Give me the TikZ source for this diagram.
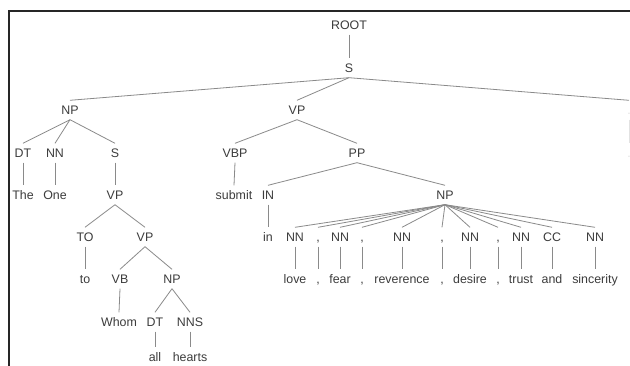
\documentclass[tikz,border=0pt]{standalone}
\usepackage{fontspec}
\setmainfont{Liberation Sans}
\definecolor{txt}{HTML}{3C3C3C}
\definecolor{edge}{HTML}{8A8A8A}
\definecolor{faint}{HTML}{E2E2E2}
\begin{document}
\begin{tikzpicture}[x=1pt,y=-1pt,
  lbl/.style={font=\fontsize{12.4}{14}\selectfont, text=txt, inner sep=0pt,
    text height=8.8pt, text depth=0pt, minimum height=19pt},
  faintlbl/.style={lbl, text=faint},
  br/.style={draw=edge, line width=0.8pt},
  faintbr/.style={draw=faint, line width=0.8pt},
  frame/.style={draw=black!85, line width=1.3pt}]
\useasboundingbox (0,0) rectangle (630,366);
\clip (0,0) rectangle (630,366);
\fill[white] (0,0) rectangle (630,366);
% frame
\coordinate (fTR) at (632,11);
\coordinate (fTL) at (9,11);
\coordinate (fBL) at (9,368);
\draw[frame] (fTR) -- (fTL) -- (fBL);
% nodes
\node[lbl] (root) at (349,25) {ROOT};
\node[lbl] (s) at (349,68) {S};
\node[lbl] (np1) at (70,110) {NP};
\node[lbl] (vp1) at (297,110) {VP};
\node[faintlbl] (p3) at (629,110) {.};
\node[lbl] (dt1) at (23,153) {DT};
\node[lbl] (nn1) at (55,153) {NN};
\node[lbl] (s2) at (115,153) {S};
\node[lbl] (vbp) at (235,153) {VBP};
\node[lbl] (pp) at (357,153) {PP};
\node[faintlbl] (p3l) at (629,153) {.};
\node[lbl] (wthe) at (23,195) {The};
\node[lbl] (wone) at (55,195) {One};
\node[lbl] (vp2) at (115,195) {VP};
\node[lbl] (wsubmit) at (234,195) {submit};
\node[lbl] (in) at (268,195) {IN};
\node[lbl] (np2) at (445,195) {NP};
\node[lbl] (to) at (85,237) {TO};
\node[lbl] (vp3) at (145,237) {VP};
\node[lbl] (win) at (268,237) {in};
\node[lbl] (nn2) at (295,237) {NN};
\node[lbl] (c1) at (318,237) {,};
\node[lbl] (nn3) at (340,237) {NN};
\node[lbl] (c2) at (362,237) {,};
\node[lbl] (nn4) at (402,237) {NN};
\node[lbl] (c3) at (442,237) {,};
\node[lbl] (nn5) at (470,237) {NN};
\node[lbl] (c4) at (498,237) {,};
\node[lbl] (nn6) at (521,237) {NN};
\node[lbl] (cc) at (552,237) {CC};
\node[lbl] (nn7) at (595,237) {NN};
\node[lbl] (wto) at (85,279) {to};
\node[lbl] (vb) at (120,279) {VB};
\node[lbl] (np3) at (172,279) {NP};
\node[lbl] (wlove) at (295,279) {love};
\node[lbl] (wc1) at (318,279) {,};
\node[lbl] (wfear) at (340,279) {fear};
\node[lbl] (wc2) at (362,279) {,};
\node[lbl] (wrev) at (402,279) {reverence};
\node[lbl] (wc3) at (442,279) {,};
\node[lbl] (wdesire) at (470,279) {desire};
\node[lbl] (wc4) at (498,279) {,};
\node[lbl] (wtrust) at (521,279) {trust};
\node[lbl] (wand) at (552,279) {and};
\node[lbl] (wsinc) at (595,279) {sincerity};
\node[lbl] (wwhom) at (119,322) {Whom};
\node[lbl] (dt2) at (155,322) {DT};
\node[lbl] (nns) at (190,322) {NNS};
\node[lbl] (wall) at (155,357) {all};
\node[lbl] (whearts) at (190,357) {hearts};
% edges
\draw[br] (root.south) -- (s.north);
\draw[br] (s.south) -- (np1.north);
\draw[br] (s.south) -- (vp1.north);
\draw[br] (s.south) -- (p3.north);
\draw[faintbr] (p3.south) -- (p3l.north);
\draw[br] (np1.south) -- (dt1.north);
\draw[br] (np1.south) -- (nn1.north);
\draw[br] (np1.south) -- (s2.north);
\draw[br] (dt1.south) -- (wthe.north);
\draw[br] (nn1.south) -- (wone.north);
\draw[br] (s2.south) -- (vp2.north);
\draw[br] (vp2.south) -- (to.north);
\draw[br] (vp2.south) -- (vp3.north);
\draw[br] (to.south) -- (wto.north);
\draw[br] (vp3.south) -- (vb.north);
\draw[br] (vp3.south) -- (np3.north);
\draw[br] (vb.south) -- (wwhom.north);
\draw[br] (np3.south) -- (dt2.north);
\draw[br] (np3.south) -- (nns.north);
\draw[br] (dt2.south) -- (wall.north);
\draw[br] (nns.south) -- (whearts.north);
\draw[br] (vp1.south) -- (vbp.north);
\draw[br] (vp1.south) -- (pp.north);
\draw[br] (vbp.south) -- (wsubmit.north);
\draw[br] (pp.south) -- (in.north);
\draw[br] (pp.south) -- (np2.north);
\draw[br] (in.south) -- (win.north);
\foreach \c/\w in {nn2/wlove, c1/wc1, nn3/wfear, c2/wc2, nn4/wrev, c3/wc3, nn5/wdesire, c4/wc4, nn6/wtrust, cc/wand, nn7/wsinc}{
  \draw[br] (np2.south) -- (\c.north);
  \draw[br] (\c.south) -- (\w.north);
}
\end{tikzpicture}
\end{document}
